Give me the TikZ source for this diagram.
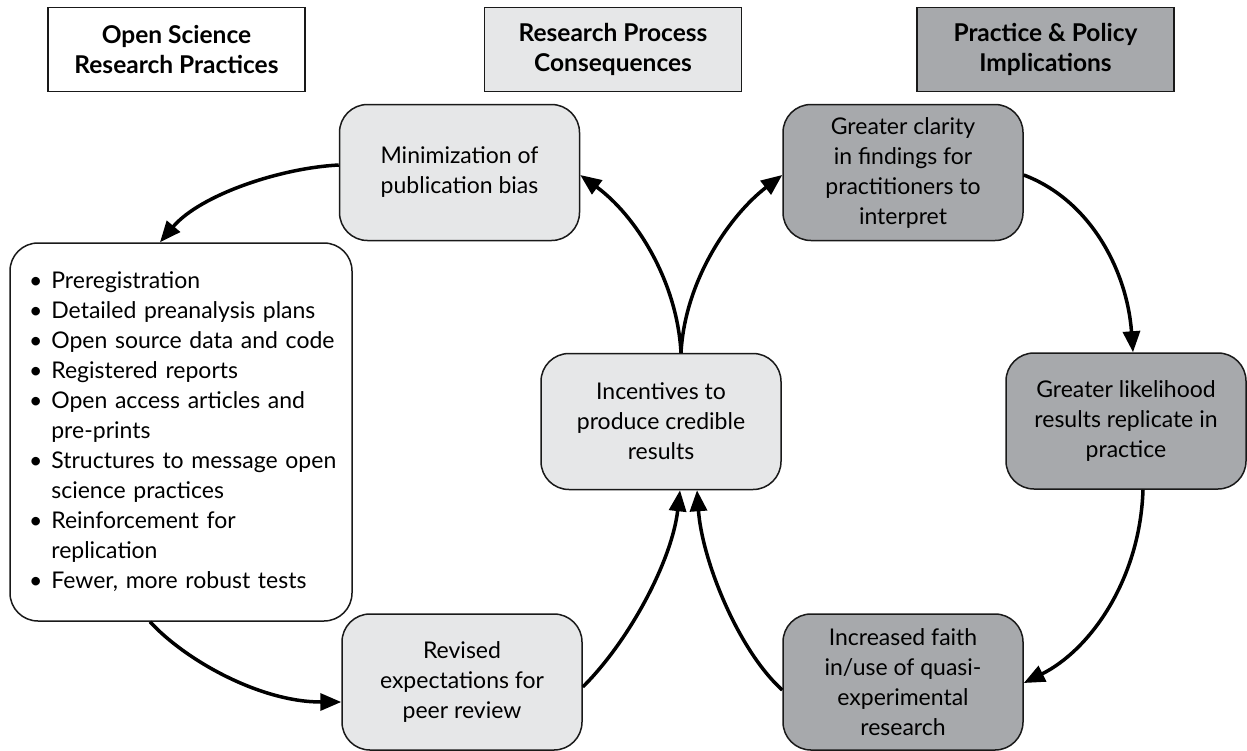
\documentclass[tikz,border=0pt]{standalone}
\usepackage{fontspec}
\setmainfont{Lato}
\usetikzlibrary{arrows.meta,calc}
\definecolor{lightg}{HTML}{E6E7E8}
\definecolor{darkg}{HTML}{A7A9AC}
\begin{document}
\begin{tikzpicture}[x=1pt,y=-1pt,
  txt/.style={font=\fontsize{23}{30}\selectfont},
  header/.style={draw=black!90, line width=1.5pt, align=center, inner sep=0pt,
    minimum width=257pt, minimum height=84pt, font=\bfseries\fontsize{24.5}{30}\selectfont},
  rbox/.style={draw=black!90, line width=1.5pt, rounded corners=28pt, align=center,
    inner sep=0pt, minimum width=240pt, minimum height=136pt, txt},
  lbox/.style={rbox, fill=lightg},
  dbox/.style={rbox, fill=darkg},
  conn/.style={line width=3.5pt, -{Triangle[length=21pt,width=17pt]}}
]
\useasboundingbox (0,0) rectangle (1247,750);

% headers
\node[header, fill=white] (h1) at (176.5,49.5) {Open Science\\Research Practices};
\node[header, fill=lightg] (h2) at (613,49.5) {Research Process\\Consequences};
\node[header, fill=darkg] (h3) at (1045.5,49.5) {Practice \& Policy\\Implications};

% boxes
\node[lbox] (mini) at (459.5,172.5) {Minimization of\\publication bias};
\node[dbox] (clar) at (903,172.5) {Greater clarity\\in findings for\\practitioners to\\interpret};
\node[lbox] (inc) at (661,421.5) {Incentives to\\produce credible\\results};
\node[dbox] (like) at (1126,421) {Greater likelihood\\results replicate in\\practice};
\node[lbox] (rev) at (462,682) {Revised\\expectations for\\peer review};
\node[dbox] (faith) at (903,682) {Increased faith\\in/use of quasi-\\experimental\\research};

\node[rbox, fill=white, minimum width=342pt, minimum height=378pt, text width=304pt, align=left] (list) at (181,432) {%
  \begin{tabular}{@{}l@{\hspace{9pt}}l@{}}
  \textbullet & Preregistration\\
  \textbullet & Detailed preanalysis plans\\
  \textbullet & Open source data and code\\
  \textbullet & Registered reports\\
  \textbullet & Open access articles and\\
              & pre-prints\\
  \textbullet & Structures to message open\\
              & science practices\\
  \textbullet & Reinforcement for\\
              & replication\\
  \textbullet & Fewer, more robust tests
  \end{tabular}};

% connectors
\draw[conn] ($(mini.west)+(0,-7.5)$) .. controls (280,168) and (200,195) .. ($(list.north)+(-21,0)$);
\draw[conn] ($(list.south)+(-31,0)$) .. controls (185,660) and (260,702) .. ($(rev.west)+(0,20)$);
\draw[conn] ($(rev.east)+(0,5)$) .. controls (630,640) and (672,560) .. ($(inc.south)+(19,0)$);
\draw[conn] ($(faith.west)+(0,8)$) .. controls (738,650) and (702,560) .. ($(inc.south)+(36,0)$);
\draw[conn] ($(inc.north)+(20,0)$) .. controls (677,280) and (635,215) .. ($(mini.east)+(0,2.5)$);
\draw[conn] ($(inc.north)+(20,0)$) .. controls (685,280) and (730,215) .. ($(clar.west)+(0,2.5)$);
\draw[conn] ($(clar.east)+(0,2.5)$) .. controls (1090,200) and (1127,270) .. ($(like.north)+(7,0)$);
\draw[conn] ($(like.south)+(17,0)$) .. controls (1140,580) and (1090,650) .. ($(faith.east)+(0,1)$);
\end{tikzpicture}
\end{document}
